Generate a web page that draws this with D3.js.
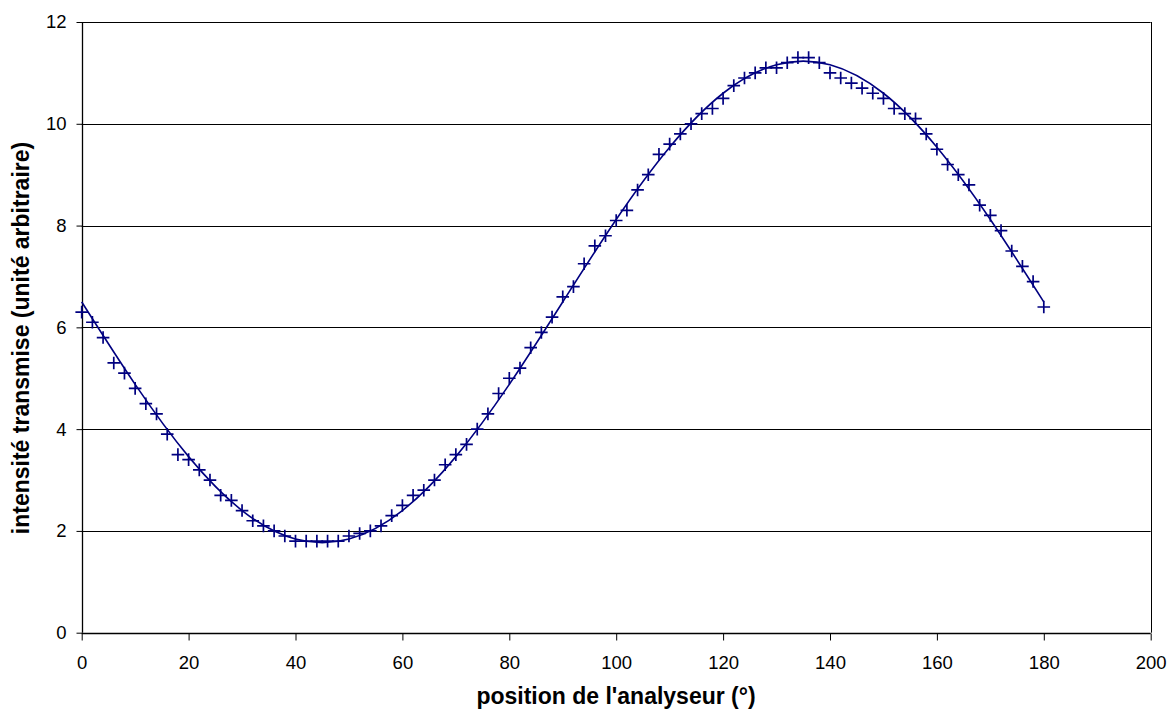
<!DOCTYPE html>
<html>
<head>
<meta charset="utf-8">
<script src="https://cdn.jsdelivr.net/npm/d3@7"></script>
<style>
  body { margin: 0; background: #fff; }
  svg { display: block; font-family: "Liberation Sans", Arial, sans-serif; }
</style>
</head>
<body>
<svg id="chart" width="1169" height="709"></svg>
<script>
// Measured data: analyser angle (degrees) and transmitted intensity
const angles = [0,2,4,6,8,10,12,14,16,18,20,22,24,26,28,30,32,34,36,38,40,42,44,46,48,50,52,54,56,58,60,62,64,66,68,70,72,74,76,78,80,82,84,86,88,90,92,94,96,98,100,102,104,106,108,110,112,114,116,118,120,122,124,126,128,130,132,134,136,138,140,142,144,146,148,150,152,154,156,158,160,162,164,166,168,170,172,174,176,178,180];
const intensities = [6.3,6.1,5.8,5.3,5.1,4.8,4.5,4.3,3.9,3.5,3.4,3.2,3.0,2.7,2.6,2.4,2.2,2.1,2.0,1.9,1.8,1.8,1.8,1.8,1.8,1.9,1.95,2.0,2.1,2.3,2.5,2.7,2.8,3.0,3.3,3.5,3.7,4.0,4.3,4.7,5.0,5.2,5.6,5.9,6.2,6.6,6.8,7.25,7.6,7.8,8.1,8.3,8.7,9.0,9.4,9.6,9.8,10.0,10.2,10.3,10.5,10.75,10.9,11.0,11.1,11.1,11.2,11.3,11.3,11.2,11.0,10.9,10.8,10.7,10.6,10.5,10.3,10.2,10.1,9.8,9.5,9.2,9.0,8.8,8.4,8.2,7.9,7.5,7.2,6.9,6.4];

// Fitted curve at 10° steps
const fitAngles = [0,10,20,30,40,50,60,70,80,90,100,110,120,130,140,150,160,170,180];
const fitValues = [6.50,4.88,3.46,2.40,1.84,1.84,2.40,3.46,4.88,6.50,8.12,9.54,10.60,11.16,11.16,10.60,9.54,8.12,6.50];

const xTicks = [0,20,40,60,80,100,120,140,160,180,200];
const yTicks = [0,2,4,6,8,10,12];
const xTitle = "position de l'analyseur (°)";
const yTitle = "intensité transmise (unité arbitraire)";

const svg = d3.select("#chart");
const pLeft = 81.7, pRight = 1150.7, pTop = 22, pBottom = 632.7;
const x = d3.scaleLinear().domain([0, 200]).range([pLeft, pRight]);
const y = d3.scaleLinear().domain([0, 12]).range([pBottom, pTop]);
const navy = "#000080";

// gridlines
svg.append("g").selectAll("line").data(yTicks.filter(d => d > 0)).join("line")
  .attr("x1", pLeft).attr("x2", pRight)
  .attr("y1", d => Math.round(y(d)) + 0.5).attr("y2", d => Math.round(y(d)) + 0.5)
  .attr("stroke", "#000").attr("stroke-width", 1);

// right border
svg.append("line")
  .attr("x1", Math.round(pRight) + 0.5).attr("x2", Math.round(pRight) + 0.5)
  .attr("y1", y(12)).attr("y2", y(0))
  .attr("stroke", "#000");

// axes
const xAxis = d3.axisBottom(x).tickValues(xTicks).tickSize(7).tickPadding(15).tickFormat(d3.format("d"));
const yAxis = d3.axisLeft(y).tickValues(yTicks).tickSize(6).tickPadding(10).tickFormat(d3.format("d"));

const gx = svg.append("g").attr("transform", `translate(0,${Math.round(pBottom) + 0.5})`).call(xAxis);
const gy = svg.append("g").attr("transform", `translate(${Math.round(pLeft) + 0.5},0)`).call(yAxis);
[gx, gy].forEach(g => {
  g.select(".domain").attr("stroke", "#000").attr("stroke-width", 1.3);
  g.selectAll(".tick line").attr("stroke", "#000");
  g.selectAll(".tick text").attr("fill", "#000").attr("font-size", 18.5)
    .attr("font-family", "'Liberation Sans', Arial, sans-serif");
});
gx.select(".domain").attr("d", `M${pLeft},0H${pRight}`);
gy.select(".domain").attr("d", `M0,${pTop}V${pBottom}`);

// fit curve
const line = d3.line().x((d, i) => x(fitAngles[i])).y(d => y(d)).curve(d3.curveNatural);
svg.append("path").datum(fitValues)
  .attr("d", line).attr("fill", "none").attr("stroke", navy).attr("stroke-width", 1.6);

// markers (+)
const s = 6.3;
svg.append("g").selectAll("path").data(angles).join("path")
  .attr("transform", (d, i) => `translate(${x(d)},${y(intensities[i])})`)
  .attr("d", `M${-s},0H${s}M0,${-s}V${s}`)
  .attr("stroke", navy).attr("stroke-width", 1.7).attr("fill", "none");

// titles
svg.append("text").text(xTitle)
  .attr("x", 616).attr("y", 704)
  .attr("text-anchor", "middle").attr("font-weight", "bold").attr("font-size", 23);

svg.append("text").text(yTitle)
  .attr("transform", `translate(29,338) rotate(-90)`)
  .attr("text-anchor", "middle").attr("font-weight", "bold").attr("font-size", 23);
</script>
</body>
</html>
